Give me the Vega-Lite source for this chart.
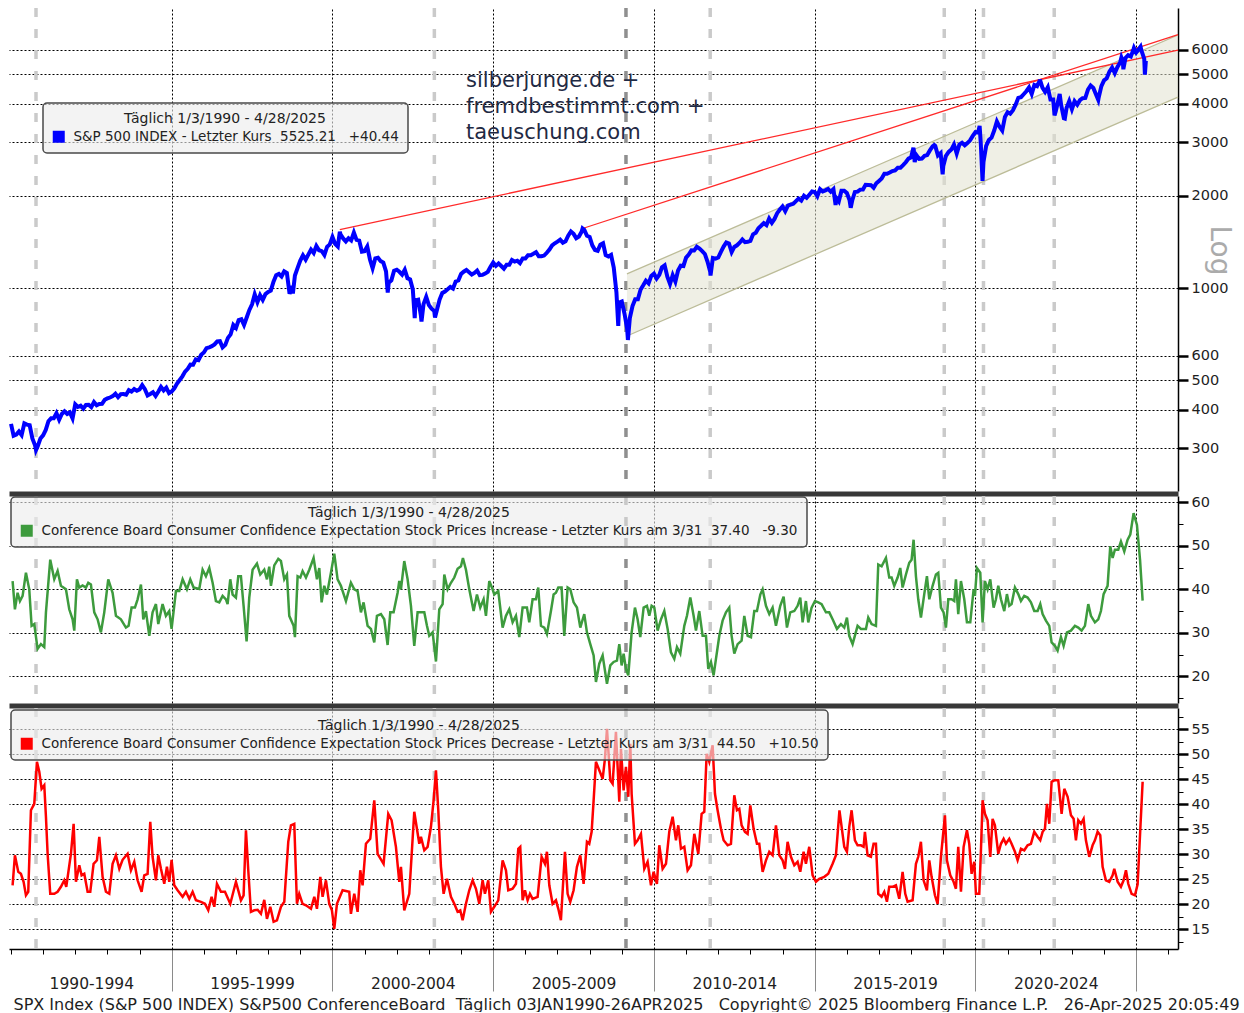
{
"$schema":"https://vega.github.io/schema/vega-lite/v6.json",
"background":"#ffffff",
"padding":{"left":3,"top":6,"right":0,"bottom":0},
"spacing":5,
"bounds":"flush",
"datasets":{
"rec":[{"t":1990.78},{"t":2003.17},{"t":2009.13},{"t":2011.75},{"t":2019.03},{"t":2020.25},{"t":2022.45}],
"band":[{"t":2009.16,"lo":697,"hi":1112},{"t":2026.3,"lo":4208,"hi":6712}],
"trend":[{"line":"a","t":2000.23,"v":1553},{"line":"a","t":2026.3,"v":5992},{"line":"b","t":2007.78,"v":1565},{"line":"b","t":2026.3,"v":6726}],
"spx":[
{"t":1990.003,"v":359.7},{"t":1990.083,"v":329.1},{"t":1990.167,"v":331.9},{"t":1990.25,"v":339.9},{"t":1990.333,"v":330.8},{"t":1990.417,"v":361.2},{"t":1990.5,"v":358.0},{"t":1990.583,"v":356.2},{"t":1990.667,"v":322.6},{"t":1990.75,"v":306.1},{"t":1990.78,"v":295.5},{"t":1990.833,"v":304.0},{"t":1990.917,"v":322.2},
{"t":1991.0,"v":330.2},{"t":1991.083,"v":343.9},{"t":1991.167,"v":367.1},{"t":1991.25,"v":375.2},{"t":1991.333,"v":375.3},{"t":1991.417,"v":389.8},{"t":1991.5,"v":371.2},{"t":1991.583,"v":387.8},{"t":1991.667,"v":395.4},{"t":1991.75,"v":387.9},{"t":1991.833,"v":392.5},{"t":1991.917,"v":375.2},
{"t":1992.0,"v":417.1},{"t":1992.083,"v":408.8},{"t":1992.167,"v":412.7},{"t":1992.25,"v":403.7},{"t":1992.333,"v":414.9},{"t":1992.417,"v":415.4},{"t":1992.5,"v":408.1},{"t":1992.583,"v":424.2},{"t":1992.667,"v":414.0},{"t":1992.75,"v":417.8},{"t":1992.833,"v":418.7},{"t":1992.917,"v":431.4},
{"t":1993.0,"v":435.7},{"t":1993.083,"v":438.8},{"t":1993.167,"v":443.4},{"t":1993.25,"v":451.7},{"t":1993.333,"v":440.2},{"t":1993.417,"v":450.2},{"t":1993.5,"v":450.5},{"t":1993.583,"v":448.1},{"t":1993.667,"v":463.6},{"t":1993.75,"v":458.9},{"t":1993.833,"v":467.8},{"t":1993.917,"v":461.8},
{"t":1994.0,"v":466.5},{"t":1994.083,"v":481.6},{"t":1994.167,"v":467.1},{"t":1994.25,"v":445.8},{"t":1994.333,"v":450.9},{"t":1994.417,"v":456.5},{"t":1994.5,"v":444.3},{"t":1994.583,"v":458.3},{"t":1994.667,"v":475.5},{"t":1994.75,"v":462.7},{"t":1994.833,"v":472.4},{"t":1994.917,"v":453.7},
{"t":1995.0,"v":459.3},{"t":1995.083,"v":470.4},{"t":1995.167,"v":487.4},{"t":1995.25,"v":500.7},{"t":1995.333,"v":514.7},{"t":1995.417,"v":533.4},{"t":1995.5,"v":544.8},{"t":1995.583,"v":562.1},{"t":1995.667,"v":561.9},{"t":1995.75,"v":584.4},{"t":1995.833,"v":581.5},{"t":1995.917,"v":605.4},
{"t":1996.0,"v":615.9},{"t":1996.083,"v":636.0},{"t":1996.167,"v":640.4},{"t":1996.25,"v":645.5},{"t":1996.333,"v":654.2},{"t":1996.417,"v":669.1},{"t":1996.5,"v":670.6},{"t":1996.583,"v":639.9},{"t":1996.667,"v":652.0},{"t":1996.75,"v":687.3},{"t":1996.833,"v":705.3},{"t":1996.917,"v":757.0},
{"t":1997.0,"v":740.7},{"t":1997.083,"v":786.2},{"t":1997.167,"v":790.8},{"t":1997.25,"v":757.1},{"t":1997.333,"v":801.3},{"t":1997.417,"v":848.3},{"t":1997.5,"v":885.1},{"t":1997.583,"v":954.3},{"t":1997.667,"v":899.5},{"t":1997.75,"v":947.3},{"t":1997.833,"v":914.6},{"t":1997.917,"v":955.4},
{"t":1998.0,"v":970.4},{"t":1998.083,"v":980.3},{"t":1998.167,"v":1049.3},{"t":1998.25,"v":1101.8},{"t":1998.333,"v":1111.8},{"t":1998.417,"v":1090.8},{"t":1998.5,"v":1133.8},{"t":1998.583,"v":1120.7},{"t":1998.667,"v":957.3},{"t":1998.75,"v":1017.0},{"t":1998.77,"v":959.4},{"t":1998.833,"v":1098.7},{"t":1998.917,"v":1163.6},
{"t":1999.0,"v":1229.2},{"t":1999.083,"v":1279.6},{"t":1999.167,"v":1238.3},{"t":1999.25,"v":1286.4},{"t":1999.333,"v":1335.2},{"t":1999.417,"v":1301.8},{"t":1999.5,"v":1372.7},{"t":1999.583,"v":1328.7},{"t":1999.667,"v":1320.4},{"t":1999.75,"v":1282.7},{"t":1999.833,"v":1362.9},{"t":1999.917,"v":1389.0},
{"t":2000.0,"v":1469.3},{"t":2000.083,"v":1394.5},{"t":2000.167,"v":1366.4},{"t":2000.23,"v":1527.5},{"t":2000.25,"v":1498.6},{"t":2000.333,"v":1452.4},{"t":2000.417,"v":1420.6},{"t":2000.5,"v":1454.6},{"t":2000.583,"v":1430.8},{"t":2000.667,"v":1517.7},{"t":2000.75,"v":1436.5},{"t":2000.833,"v":1429.4},{"t":2000.917,"v":1315.2},
{"t":2001.0,"v":1320.3},{"t":2001.083,"v":1366.0},{"t":2001.167,"v":1239.9},{"t":2001.25,"v":1160.3},{"t":2001.333,"v":1249.5},{"t":2001.417,"v":1255.8},{"t":2001.5,"v":1224.4},{"t":2001.583,"v":1211.2},{"t":2001.667,"v":1133.6},{"t":2001.72,"v":965.8},{"t":2001.75,"v":1040.9},{"t":2001.833,"v":1059.8},{"t":2001.917,"v":1139.5},
{"t":2002.0,"v":1148.1},{"t":2002.083,"v":1130.2},{"t":2002.167,"v":1106.7},{"t":2002.25,"v":1147.4},{"t":2002.333,"v":1076.9},{"t":2002.417,"v":1067.1},{"t":2002.5,"v":989.8},{"t":2002.56,"v":797.7},{"t":2002.583,"v":911.6},{"t":2002.667,"v":916.1},{"t":2002.75,"v":815.3},{"t":2002.77,"v":776.8},{"t":2002.833,"v":885.8},{"t":2002.917,"v":936.3},
{"t":2003.0,"v":879.8},{"t":2003.083,"v":855.7},{"t":2003.167,"v":841.2},{"t":2003.19,"v":800.7},{"t":2003.25,"v":848.2},{"t":2003.333,"v":916.9},{"t":2003.417,"v":963.6},{"t":2003.5,"v":974.5},{"t":2003.583,"v":990.3},{"t":2003.667,"v":1008.0},{"t":2003.75,"v":996.0},{"t":2003.833,"v":1050.7},{"t":2003.917,"v":1058.2},
{"t":2004.0,"v":1111.9},{"t":2004.083,"v":1131.1},{"t":2004.167,"v":1144.9},{"t":2004.25,"v":1126.2},{"t":2004.333,"v":1107.3},{"t":2004.417,"v":1120.7},{"t":2004.5,"v":1140.8},{"t":2004.583,"v":1101.7},{"t":2004.667,"v":1104.2},{"t":2004.75,"v":1114.6},{"t":2004.833,"v":1130.2},{"t":2004.917,"v":1173.8},
{"t":2005.0,"v":1211.9},{"t":2005.083,"v":1181.3},{"t":2005.167,"v":1203.6},{"t":2005.25,"v":1180.6},{"t":2005.333,"v":1156.9},{"t":2005.417,"v":1191.5},{"t":2005.5,"v":1191.3},{"t":2005.583,"v":1234.2},{"t":2005.667,"v":1220.3},{"t":2005.75,"v":1228.8},{"t":2005.833,"v":1207.0},{"t":2005.917,"v":1249.5},
{"t":2006.0,"v":1248.3},{"t":2006.083,"v":1280.1},{"t":2006.167,"v":1280.7},{"t":2006.25,"v":1294.9},{"t":2006.333,"v":1310.6},{"t":2006.417,"v":1270.1},{"t":2006.5,"v":1270.2},{"t":2006.583,"v":1276.7},{"t":2006.667,"v":1303.8},{"t":2006.75,"v":1335.9},{"t":2006.833,"v":1377.9},{"t":2006.917,"v":1400.6},
{"t":2007.0,"v":1418.3},{"t":2007.083,"v":1438.2},{"t":2007.167,"v":1406.8},{"t":2007.25,"v":1420.9},{"t":2007.333,"v":1482.4},{"t":2007.417,"v":1530.6},{"t":2007.5,"v":1503.4},{"t":2007.583,"v":1455.3},{"t":2007.667,"v":1474.0},{"t":2007.75,"v":1526.8},{"t":2007.78,"v":1565.2},{"t":2007.833,"v":1549.4},{"t":2007.917,"v":1481.1},
{"t":2008.0,"v":1468.4},{"t":2008.083,"v":1378.6},{"t":2008.167,"v":1330.6},{"t":2008.25,"v":1322.7},{"t":2008.333,"v":1385.6},{"t":2008.417,"v":1400.4},{"t":2008.5,"v":1280.0},{"t":2008.583,"v":1267.4},{"t":2008.667,"v":1282.8},{"t":2008.75,"v":1166.4},{"t":2008.833,"v":968.8},{"t":2008.89,"v":752.4},{"t":2008.917,"v":896.2},
{"t":2009.0,"v":903.3},{"t":2009.083,"v":825.9},{"t":2009.167,"v":735.1},{"t":2009.19,"v":676.5},{"t":2009.25,"v":797.9},{"t":2009.333,"v":872.8},{"t":2009.417,"v":919.1},{"t":2009.5,"v":919.3},{"t":2009.583,"v":987.5},{"t":2009.667,"v":1020.6},{"t":2009.75,"v":1057.1},{"t":2009.833,"v":1036.2},{"t":2009.917,"v":1095.6},
{"t":2010.0,"v":1115.1},{"t":2010.083,"v":1073.9},{"t":2010.167,"v":1104.5},{"t":2010.25,"v":1169.4},{"t":2010.333,"v":1186.7},{"t":2010.417,"v":1089.4},{"t":2010.5,"v":1030.7},{"t":2010.583,"v":1101.6},{"t":2010.667,"v":1049.3},{"t":2010.75,"v":1141.2},{"t":2010.833,"v":1183.3},{"t":2010.917,"v":1180.6},
{"t":2011.0,"v":1257.6},{"t":2011.083,"v":1286.1},{"t":2011.167,"v":1327.2},{"t":2011.25,"v":1325.8},{"t":2011.333,"v":1363.6},{"t":2011.417,"v":1345.2},{"t":2011.5,"v":1320.6},{"t":2011.583,"v":1292.3},{"t":2011.667,"v":1218.9},{"t":2011.75,"v":1131.4},{"t":2011.76,"v":1099.2},{"t":2011.833,"v":1253.3},{"t":2011.917,"v":1247.0},
{"t":2012.0,"v":1257.6},{"t":2012.083,"v":1312.4},{"t":2012.167,"v":1365.7},{"t":2012.25,"v":1408.5},{"t":2012.333,"v":1397.9},{"t":2012.417,"v":1310.3},{"t":2012.5,"v":1362.2},{"t":2012.583,"v":1379.3},{"t":2012.667,"v":1406.6},{"t":2012.75,"v":1440.7},{"t":2012.833,"v":1412.2},{"t":2012.917,"v":1416.2},
{"t":2013.0,"v":1426.2},{"t":2013.083,"v":1498.1},{"t":2013.167,"v":1514.7},{"t":2013.25,"v":1569.2},{"t":2013.333,"v":1597.6},{"t":2013.417,"v":1630.7},{"t":2013.5,"v":1606.3},{"t":2013.583,"v":1685.7},{"t":2013.667,"v":1633.0},{"t":2013.75,"v":1681.6},{"t":2013.833,"v":1756.5},{"t":2013.917,"v":1805.8},
{"t":2014.0,"v":1848.4},{"t":2014.083,"v":1782.6},{"t":2014.167,"v":1859.5},{"t":2014.25,"v":1872.3},{"t":2014.333,"v":1883.9},{"t":2014.417,"v":1923.6},{"t":2014.5,"v":1960.2},{"t":2014.583,"v":1930.7},{"t":2014.667,"v":2003.4},{"t":2014.75,"v":1972.3},{"t":2014.833,"v":2018.1},{"t":2014.917,"v":2067.6},
{"t":2015.0,"v":2058.9},{"t":2015.083,"v":1995.0},{"t":2015.167,"v":2104.5},{"t":2015.25,"v":2067.9},{"t":2015.333,"v":2085.5},{"t":2015.417,"v":2107.4},{"t":2015.5,"v":2063.1},{"t":2015.583,"v":2103.8},{"t":2015.65,"v":1867.6},{"t":2015.667,"v":1972.2},{"t":2015.75,"v":1920.0},{"t":2015.833,"v":2079.4},{"t":2015.917,"v":2080.4},
{"t":2016.0,"v":2043.9},{"t":2016.083,"v":1940.2},{"t":2016.12,"v":1829.1},{"t":2016.167,"v":1932.2},{"t":2016.25,"v":2059.7},{"t":2016.333,"v":2065.3},{"t":2016.417,"v":2097.0},{"t":2016.5,"v":2098.9},{"t":2016.583,"v":2173.6},{"t":2016.667,"v":2171.0},{"t":2016.75,"v":2168.3},{"t":2016.833,"v":2126.2},{"t":2016.917,"v":2198.8},
{"t":2017.0,"v":2238.8},{"t":2017.083,"v":2278.9},{"t":2017.167,"v":2363.6},{"t":2017.25,"v":2362.7},{"t":2017.333,"v":2384.2},{"t":2017.417,"v":2411.8},{"t":2017.5,"v":2423.4},{"t":2017.583,"v":2470.3},{"t":2017.667,"v":2471.7},{"t":2017.75,"v":2519.4},{"t":2017.833,"v":2575.3},{"t":2017.917,"v":2647.6},
{"t":2018.0,"v":2673.6},{"t":2018.07,"v":2872.9},{"t":2018.083,"v":2823.8},{"t":2018.11,"v":2581.0},{"t":2018.167,"v":2713.8},{"t":2018.25,"v":2640.9},{"t":2018.333,"v":2648.1},{"t":2018.417,"v":2705.3},{"t":2018.5,"v":2718.4},{"t":2018.583,"v":2816.3},{"t":2018.667,"v":2901.5},{"t":2018.72,"v":2930.8},{"t":2018.75,"v":2914.0},{"t":2018.833,"v":2711.7},{"t":2018.917,"v":2760.2},{"t":2018.98,"v":2351.1},
{"t":2019.0,"v":2506.9},{"t":2019.083,"v":2704.1},{"t":2019.167,"v":2784.5},{"t":2019.25,"v":2834.4},{"t":2019.333,"v":2945.8},{"t":2019.417,"v":2752.1},{"t":2019.5,"v":2941.8},{"t":2019.583,"v":2980.4},{"t":2019.667,"v":2926.5},{"t":2019.75,"v":2976.7},{"t":2019.833,"v":3037.6},{"t":2019.917,"v":3141.0},
{"t":2020.0,"v":3230.8},{"t":2020.083,"v":3225.5},{"t":2020.13,"v":3386.2},{"t":2020.167,"v":2954.2},{"t":2020.22,"v":2237.4},{"t":2020.25,"v":2584.6},{"t":2020.333,"v":2912.4},{"t":2020.417,"v":3044.3},{"t":2020.5,"v":3100.3},{"t":2020.583,"v":3271.1},{"t":2020.667,"v":3500.3},{"t":2020.75,"v":3363.0},{"t":2020.833,"v":3270.0},{"t":2020.917,"v":3621.6},
{"t":2021.0,"v":3756.1},{"t":2021.083,"v":3714.2},{"t":2021.167,"v":3811.2},{"t":2021.25,"v":3972.9},{"t":2021.333,"v":4181.2},{"t":2021.417,"v":4204.1},{"t":2021.5,"v":4297.5},{"t":2021.583,"v":4395.3},{"t":2021.667,"v":4522.7},{"t":2021.75,"v":4307.5},{"t":2021.833,"v":4605.4},{"t":2021.917,"v":4567.0},
{"t":2022.0,"v":4766.2},{"t":2022.005,"v":4796.6},{"t":2022.083,"v":4515.6},{"t":2022.167,"v":4373.9},{"t":2022.25,"v":4530.4},{"t":2022.333,"v":4131.9},{"t":2022.417,"v":4132.2},{"t":2022.46,"v":3666.8},{"t":2022.5,"v":3785.4},{"t":2022.583,"v":4130.3},{"t":2022.62,"v":4305.2},{"t":2022.667,"v":3955.0},{"t":2022.75,"v":3585.6},{"t":2022.78,"v":3577.0},{"t":2022.833,"v":3872.0},{"t":2022.917,"v":4080.1},
{"t":2023.0,"v":3839.5},{"t":2023.083,"v":4076.6},{"t":2023.167,"v":3970.2},{"t":2023.25,"v":4109.3},{"t":2023.333,"v":4169.5},{"t":2023.417,"v":4179.8},{"t":2023.5,"v":4450.4},{"t":2023.583,"v":4589.0},{"t":2023.667,"v":4507.7},{"t":2023.75,"v":4288.1},{"t":2023.82,"v":4117.4},{"t":2023.833,"v":4193.8},{"t":2023.917,"v":4567.8},
{"t":2024.0,"v":4769.8},{"t":2024.083,"v":4845.7},{"t":2024.167,"v":5096.3},{"t":2024.25,"v":5254.4},{"t":2024.333,"v":5035.7},{"t":2024.417,"v":5277.5},{"t":2024.5,"v":5460.5},{"t":2024.54,"v":5667.2},{"t":2024.583,"v":5522.3},{"t":2024.6,"v":5186.3},{"t":2024.667,"v":5648.4},{"t":2024.75,"v":5762.5},{"t":2024.833,"v":5705.5},{"t":2024.917,"v":6032.4},{"t":2024.93,"v":6090.3},
{"t":2025.0,"v":5881.6},{"t":2025.083,"v":6040.5},{"t":2025.135,"v":6144.2},{"t":2025.167,"v":5954.5},{"t":2025.25,"v":5611.9},{"t":2025.27,"v":4982.8},{"t":2025.3,"v":5525.2}
],
"inc":[
{"t":1990.052,"v":41.9},{"t":1990.124,"v":35.4},{"t":1990.207,"v":39.2},{"t":1990.28,"v":37.3},{"t":1990.363,"v":38.5},{"t":1990.467,"v":43.8},{"t":1990.57,"v":40.0},{"t":1990.643,"v":31.6},{"t":1990.726,"v":32.0},{"t":1990.829,"v":26.3},{"t":1990.933,"v":27.4},{"t":1991.037,"v":26.7},{"t":1991.089,"v":34.7},{"t":1991.223,"v":46.8},{"t":1991.348,"v":42.3},{"t":1991.452,"v":44.2},{"t":1991.555,"v":40.8},{"t":1991.711,"v":40.0},{"t":1991.814,"v":35.4},{"t":1991.918,"v":33.1},{"t":1991.97,"v":30.5},
{"t":1992.053,"v":42.3},{"t":1992.125,"v":40.4},{"t":1992.229,"v":40.9},{"t":1992.333,"v":40.4},{"t":1992.405,"v":41.5},{"t":1992.488,"v":41.1},{"t":1992.592,"v":34.7},{"t":1992.696,"v":33.1},{"t":1992.799,"v":30.1},{"t":1992.903,"v":34.7},{"t":1993.027,"v":42.3},{"t":1993.162,"v":39.2},{"t":1993.266,"v":33.9},{"t":1993.421,"v":33.1},{"t":1993.577,"v":31.2},{"t":1993.66,"v":31.6},{"t":1993.753,"v":35.8},{"t":1993.857,"v":35.8},{"t":1993.94,"v":37.7},
{"t":1994.044,"v":41.1},{"t":1994.116,"v":33.1},{"t":1994.199,"v":35.0},{"t":1994.303,"v":29.3},{"t":1994.406,"v":34.7},{"t":1994.51,"v":36.6},{"t":1994.583,"v":32.0},{"t":1994.717,"v":36.6},{"t":1994.821,"v":33.9},{"t":1994.925,"v":35.0},{"t":1994.997,"v":30.9},{"t":1995.132,"v":39.6},{"t":1995.236,"v":39.6},{"t":1995.34,"v":42.3},{"t":1995.474,"v":40.0},{"t":1995.578,"v":42.3},{"t":1995.682,"v":40.4},{"t":1995.858,"v":40.1},{"t":1995.962,"v":44.5},
{"t":1996.065,"v":43.0},{"t":1996.169,"v":44.9},{"t":1996.273,"v":41.5},{"t":1996.376,"v":37.3},{"t":1996.48,"v":37.0},{"t":1996.584,"v":38.5},{"t":1996.687,"v":37.7},{"t":1996.739,"v":36.6},{"t":1996.822,"v":42.3},{"t":1996.895,"v":38.8},{"t":1996.998,"v":38.1},{"t":1997.071,"v":43.0},{"t":1997.154,"v":43.0},{"t":1997.237,"v":36.2},{"t":1997.33,"v":28.0},{"t":1997.413,"v":38.1},{"t":1997.517,"v":44.5},{"t":1997.652,"v":45.9},{"t":1997.755,"v":43.4},{"t":1997.88,"v":44.5},{"t":1997.963,"v":42.3},
{"t":1998.035,"v":45.2},{"t":1998.087,"v":40.8},{"t":1998.191,"v":45.5},{"t":1998.315,"v":47.0},{"t":1998.398,"v":46.5},{"t":1998.502,"v":42.3},{"t":1998.585,"v":43.4},{"t":1998.657,"v":33.9},{"t":1998.792,"v":31.6},{"t":1998.834,"v":29.0},{"t":1998.917,"v":43.0},{"t":1999.0,"v":42.7},{"t":1999.072,"v":44.2},{"t":1999.176,"v":42.7},{"t":1999.28,"v":44.5},{"t":1999.414,"v":47.2},{"t":1999.518,"v":42.3},{"t":1999.591,"v":44.9},{"t":1999.663,"v":37.0},{"t":1999.746,"v":40.8},{"t":1999.829,"v":38.8},{"t":1999.953,"v":43.8},
{"t":2000.057,"v":48.2},{"t":2000.161,"v":42.3},{"t":2000.264,"v":40.8},{"t":2000.42,"v":37.3},{"t":2000.575,"v":41.5},{"t":2000.679,"v":40.0},{"t":2000.783,"v":39.6},{"t":2000.886,"v":34.7},{"t":2000.969,"v":37.0},{"t":2001.094,"v":31.6},{"t":2001.197,"v":30.9},{"t":2001.301,"v":27.8},{"t":2001.384,"v":33.9},{"t":2001.508,"v":34.3},{"t":2001.612,"v":33.1},{"t":2001.716,"v":27.2},{"t":2001.799,"v":34.7},{"t":2001.902,"v":34.7},
{"t":2002.027,"v":39.2},{"t":2002.079,"v":41.9},{"t":2002.131,"v":40.0},{"t":2002.234,"v":46.5},{"t":2002.338,"v":42.3},{"t":2002.442,"v":36.2},{"t":2002.545,"v":27.0},{"t":2002.649,"v":34.7},{"t":2002.857,"v":34.7},{"t":2002.94,"v":31.6},{"t":2003.012,"v":29.3},{"t":2003.116,"v":30.1},{"t":2003.22,"v":23.4},{"t":2003.323,"v":35.4},{"t":2003.427,"v":36.6},{"t":2003.479,"v":43.4},{"t":2003.582,"v":40.0},{"t":2003.686,"v":41.5},{"t":2003.79,"v":42.7},{"t":2003.893,"v":44.7},{"t":2003.997,"v":45.3},
{"t":2004.059,"v":47.2},{"t":2004.153,"v":44.5},{"t":2004.256,"v":40.0},{"t":2004.391,"v":35.0},{"t":2004.495,"v":38.8},{"t":2004.598,"v":35.8},{"t":2004.702,"v":37.7},{"t":2004.775,"v":33.9},{"t":2004.878,"v":41.9},{"t":2004.982,"v":40.0},{"t":2005.034,"v":38.8},{"t":2005.158,"v":39.6},{"t":2005.293,"v":31.2},{"t":2005.397,"v":33.9},{"t":2005.5,"v":35.4},{"t":2005.604,"v":32.4},{"t":2005.708,"v":33.9},{"t":2005.811,"v":29.0},{"t":2005.915,"v":35.8},
{"t":2006.05,"v":35.8},{"t":2006.122,"v":32.4},{"t":2006.226,"v":37.7},{"t":2006.33,"v":37.7},{"t":2006.402,"v":40.4},{"t":2006.486,"v":31.6},{"t":2006.589,"v":31.2},{"t":2006.672,"v":29.7},{"t":2006.796,"v":35.0},{"t":2006.879,"v":38.8},{"t":2006.952,"v":39.2},{"t":2007.025,"v":40.4},{"t":2007.128,"v":40.4},{"t":2007.211,"v":29.3},{"t":2007.315,"v":40.4},{"t":2007.398,"v":40.0},{"t":2007.501,"v":37.0},{"t":2007.605,"v":35.8},{"t":2007.709,"v":31.2},{"t":2007.833,"v":34.3},{"t":2007.916,"v":30.1},
{"t":2008.02,"v":27.4},{"t":2008.124,"v":24.8},{"t":2008.196,"v":18.7},{"t":2008.3,"v":22.9},{"t":2008.404,"v":24.8},{"t":2008.539,"v":18.3},{"t":2008.642,"v":22.5},{"t":2008.746,"v":23.3},{"t":2008.849,"v":23.6},{"t":2008.922,"v":27.4},{"t":2008.995,"v":22.5},{"t":2009.057,"v":25.2},{"t":2009.129,"v":21.7},{"t":2009.202,"v":20.2},{"t":2009.306,"v":30.1},{"t":2009.409,"v":35.8},{"t":2009.492,"v":33.1},{"t":2009.575,"v":29.0},{"t":2009.679,"v":35.8},{"t":2009.782,"v":36.2},{"t":2009.855,"v":33.9},{"t":2009.928,"v":36.2},
{"t":2010.011,"v":35.8},{"t":2010.114,"v":30.5},{"t":2010.218,"v":33.1},{"t":2010.322,"v":35.0},{"t":2010.425,"v":30.9},{"t":2010.529,"v":25.5},{"t":2010.633,"v":24.0},{"t":2010.716,"v":26.7},{"t":2010.819,"v":25.2},{"t":2010.944,"v":31.6},{"t":2011.027,"v":33.9},{"t":2011.131,"v":38.1},{"t":2011.234,"v":33.9},{"t":2011.307,"v":30.5},{"t":2011.41,"v":35.0},{"t":2011.514,"v":29.3},{"t":2011.618,"v":29.3},{"t":2011.69,"v":21.7},{"t":2011.773,"v":23.3},{"t":2011.856,"v":20.2},{"t":2011.929,"v":24.0},
{"t":2012.033,"v":29.3},{"t":2012.136,"v":32.8},{"t":2012.24,"v":34.7},{"t":2012.343,"v":35.8},{"t":2012.416,"v":29.3},{"t":2012.499,"v":25.2},{"t":2012.603,"v":27.4},{"t":2012.727,"v":28.2},{"t":2012.81,"v":33.9},{"t":2012.914,"v":29.3},{"t":2013.018,"v":29.0},{"t":2013.121,"v":35.0},{"t":2013.204,"v":35.0},{"t":2013.308,"v":38.8},{"t":2013.38,"v":40.0},{"t":2013.484,"v":36.2},{"t":2013.587,"v":34.3},{"t":2013.691,"v":35.8},{"t":2013.795,"v":31.6},{"t":2013.929,"v":36.2},
{"t":2014.033,"v":38.3},{"t":2014.137,"v":31.2},{"t":2014.24,"v":34.7},{"t":2014.365,"v":35.0},{"t":2014.468,"v":36.2},{"t":2014.551,"v":38.1},{"t":2014.624,"v":32.4},{"t":2014.727,"v":37.3},{"t":2014.8,"v":32.4},{"t":2014.904,"v":35.8},{"t":2015.008,"v":37.3},{"t":2015.111,"v":37.0},{"t":2015.215,"v":36.6},{"t":2015.35,"v":34.7},{"t":2015.453,"v":34.7},{"t":2015.557,"v":33.1},{"t":2015.692,"v":30.9},{"t":2015.816,"v":32.0},{"t":2015.92,"v":31.2},
{"t":2016.003,"v":33.5},{"t":2016.075,"v":29.3},{"t":2016.179,"v":27.4},{"t":2016.334,"v":31.6},{"t":2016.438,"v":30.9},{"t":2016.594,"v":30.9},{"t":2016.666,"v":33.5},{"t":2016.77,"v":32.0},{"t":2016.905,"v":31.6},{"t":2016.977,"v":45.7},{"t":2017.081,"v":45.3},{"t":2017.216,"v":47.2},{"t":2017.319,"v":42.7},{"t":2017.392,"v":42.7},{"t":2017.475,"v":40.8},{"t":2017.579,"v":42.7},{"t":2017.661,"v":44.9},{"t":2017.734,"v":40.4},{"t":2017.838,"v":43.4},{"t":2017.941,"v":46.1},
{"t":2018.014,"v":46.8},{"t":2018.076,"v":51.4},{"t":2018.149,"v":43.0},{"t":2018.221,"v":37.7},{"t":2018.304,"v":33.5},{"t":2018.408,"v":38.9},{"t":2018.491,"v":43.0},{"t":2018.564,"v":37.7},{"t":2018.667,"v":40.8},{"t":2018.771,"v":43.4},{"t":2018.844,"v":43.8},{"t":2018.926,"v":35.8},{"t":2019.009,"v":34.7},{"t":2019.082,"v":31.2},{"t":2019.155,"v":37.7},{"t":2019.258,"v":37.7},{"t":2019.341,"v":37.3},{"t":2019.393,"v":42.3},{"t":2019.465,"v":34.3},{"t":2019.549,"v":41.9},{"t":2019.652,"v":37.7},{"t":2019.735,"v":32.4},{"t":2019.839,"v":32.4},{"t":2019.943,"v":40.0},{"t":2019.984,"v":38.5},
{"t":2020.046,"v":44.9},{"t":2020.15,"v":43.8},{"t":2020.222,"v":32.4},{"t":2020.295,"v":41.9},{"t":2020.378,"v":40.0},{"t":2020.461,"v":42.3},{"t":2020.565,"v":35.8},{"t":2020.637,"v":37.7},{"t":2020.71,"v":40.8},{"t":2020.793,"v":37.7},{"t":2020.896,"v":35.0},{"t":2020.979,"v":38.9},{"t":2021.052,"v":36.2},{"t":2021.124,"v":36.6},{"t":2021.228,"v":40.4},{"t":2021.332,"v":38.9},{"t":2021.415,"v":37.3},{"t":2021.518,"v":38.5},{"t":2021.622,"v":38.1},{"t":2021.726,"v":37.0},{"t":2021.829,"v":35.0},{"t":2021.933,"v":35.0},
{"t":2022.016,"v":36.6},{"t":2022.089,"v":34.3},{"t":2022.192,"v":32.8},{"t":2022.296,"v":31.6},{"t":2022.369,"v":27.8},{"t":2022.472,"v":27.0},{"t":2022.555,"v":25.9},{"t":2022.659,"v":29.0},{"t":2022.742,"v":27.0},{"t":2022.846,"v":30.1},{"t":2022.97,"v":30.5},{"t":2023.094,"v":31.6},{"t":2023.198,"v":31.2},{"t":2023.302,"v":30.5},{"t":2023.405,"v":31.6},{"t":2023.509,"v":36.6},{"t":2023.592,"v":33.9},{"t":2023.716,"v":32.4},{"t":2023.82,"v":33.1},{"t":2023.903,"v":35.0},{"t":2023.986,"v":38.9},
{"t":2024.11,"v":40.8},{"t":2024.193,"v":49.9},{"t":2024.266,"v":47.2},{"t":2024.338,"v":49.1},{"t":2024.442,"v":49.1},{"t":2024.525,"v":51.0},{"t":2024.629,"v":48.7},{"t":2024.733,"v":51.4},{"t":2024.816,"v":52.6},{"t":2024.919,"v":57.5},{"t":2025.023,"v":54.8},{"t":2025.12,"v":46.7},{"t":2025.2,"v":37.4}
],
"dec":[
{"t":1990.052,"v":23.8},{"t":1990.124,"v":29.8},{"t":1990.228,"v":26.5},{"t":1990.311,"v":26.1},{"t":1990.394,"v":24.5},{"t":1990.467,"v":21.8},{"t":1990.539,"v":22.5},{"t":1990.622,"v":38.8},{"t":1990.726,"v":40.1},{"t":1990.809,"v":48.5},{"t":1990.882,"v":46.5},{"t":1990.954,"v":43.1},{"t":1991.037,"v":43.8},{"t":1991.089,"v":37.5},{"t":1991.141,"v":30.1},{"t":1991.223,"v":22.1},{"t":1991.348,"v":22.1},{"t":1991.452,"v":22.5},{"t":1991.555,"v":23.5},{"t":1991.659,"v":24.8},{"t":1991.721,"v":23.5},{"t":1991.866,"v":30.1},{"t":1991.95,"v":36.1},
{"t":1992.022,"v":24.5},{"t":1992.126,"v":27.8},{"t":1992.198,"v":25.8},{"t":1992.281,"v":26.1},{"t":1992.385,"v":22.5},{"t":1992.468,"v":22.5},{"t":1992.571,"v":28.1},{"t":1992.675,"v":28.8},{"t":1992.748,"v":33.5},{"t":1992.851,"v":25.5},{"t":1992.955,"v":22.5},{"t":1993.059,"v":22.1},{"t":1993.162,"v":28.1},{"t":1993.266,"v":29.8},{"t":1993.37,"v":27.1},{"t":1993.473,"v":28.9},{"t":1993.629,"v":30.1},{"t":1993.733,"v":26.8},{"t":1993.836,"v":28.5},{"t":1993.94,"v":24.8},
{"t":1994.064,"v":22.5},{"t":1994.147,"v":25.8},{"t":1994.251,"v":26.1},{"t":1994.334,"v":36.5},{"t":1994.406,"v":29.5},{"t":1994.51,"v":24.8},{"t":1994.583,"v":29.8},{"t":1994.666,"v":27.1},{"t":1994.769,"v":24.1},{"t":1994.852,"v":27.5},{"t":1994.925,"v":24.5},{"t":1994.997,"v":28.9},{"t":1995.08,"v":23.8},{"t":1995.184,"v":22.8},{"t":1995.34,"v":21.5},{"t":1995.443,"v":22.5},{"t":1995.547,"v":21.1},{"t":1995.651,"v":22.5},{"t":1995.754,"v":20.8},{"t":1995.91,"v":20.5},
{"t":1996.034,"v":20.1},{"t":1996.138,"v":18.8},{"t":1996.242,"v":21.5},{"t":1996.325,"v":19.5},{"t":1996.408,"v":24.1},{"t":1996.532,"v":22.5},{"t":1996.657,"v":22.5},{"t":1996.823,"v":20.1},{"t":1996.999,"v":24.5},{"t":1997.071,"v":22.8},{"t":1997.154,"v":20.8},{"t":1997.237,"v":21.8},{"t":1997.31,"v":34.8},{"t":1997.382,"v":26.8},{"t":1997.465,"v":18.5},{"t":1997.569,"v":18.8},{"t":1997.673,"v":18.9},{"t":1997.776,"v":18.1},{"t":1997.88,"v":20.9},{"t":1997.963,"v":17.1},
{"t":1998.067,"v":19.5},{"t":1998.17,"v":16.5},{"t":1998.274,"v":16.8},{"t":1998.398,"v":19.5},{"t":1998.502,"v":20.5},{"t":1998.626,"v":32.5},{"t":1998.709,"v":35.8},{"t":1998.813,"v":36.1},{"t":1998.896,"v":20.1},{"t":1998.968,"v":22.1},{"t":1999.072,"v":20.1},{"t":1999.176,"v":19.8},{"t":1999.332,"v":19.1},{"t":1999.436,"v":21.5},{"t":1999.518,"v":19.1},{"t":1999.622,"v":25.5},{"t":1999.694,"v":21.5},{"t":1999.798,"v":24.8},{"t":1999.901,"v":20.1},{"t":1999.984,"v":18.8},
{"t":2000.057,"v":15.1},{"t":2000.14,"v":20.1},{"t":2000.316,"v":22.8},{"t":2000.523,"v":22.5},{"t":2000.575,"v":18.1},{"t":2000.679,"v":22.1},{"t":2000.783,"v":18.5},{"t":2000.866,"v":26.8},{"t":2000.938,"v":23.8},{"t":2001.042,"v":32.1},{"t":2001.176,"v":33.1},{"t":2001.301,"v":40.8},{"t":2001.405,"v":30.1},{"t":2001.591,"v":28.1},{"t":2001.736,"v":38.1},{"t":2001.84,"v":36.8},{"t":2001.975,"v":31.5},
{"t":2002.079,"v":24.5},{"t":2002.131,"v":27.5},{"t":2002.234,"v":18.8},{"t":2002.39,"v":22.1},{"t":2002.545,"v":38.5},{"t":2002.701,"v":32.1},{"t":2002.753,"v":33.5},{"t":2002.857,"v":30.8},{"t":2002.96,"v":31.5},{"t":2003.064,"v":35.5},{"t":2003.147,"v":40.8},{"t":2003.22,"v":46.8},{"t":2003.292,"v":38.8},{"t":2003.375,"v":27.5},{"t":2003.458,"v":22.1},{"t":2003.562,"v":25.1},{"t":2003.686,"v":21.5},{"t":2003.79,"v":20.1},{"t":2003.893,"v":18.5},{"t":2003.976,"v":18.8},
{"t":2004.049,"v":16.8},{"t":2004.153,"v":20.1},{"t":2004.256,"v":22.8},{"t":2004.36,"v":24.8},{"t":2004.464,"v":23.1},{"t":2004.567,"v":20.1},{"t":2004.671,"v":24.8},{"t":2004.743,"v":22.1},{"t":2004.847,"v":24.8},{"t":2004.93,"v":18.5},{"t":2005.034,"v":19.5},{"t":2005.158,"v":20.8},{"t":2005.293,"v":28.8},{"t":2005.397,"v":26.8},{"t":2005.469,"v":22.8},{"t":2005.604,"v":23.1},{"t":2005.708,"v":24.1},{"t":2005.78,"v":31.1},{"t":2005.842,"v":31.5},{"t":2005.915,"v":20.8},{"t":2005.988,"v":22.8},
{"t":2006.071,"v":20.8},{"t":2006.143,"v":22.1},{"t":2006.226,"v":21.1},{"t":2006.382,"v":21.5},{"t":2006.506,"v":29.5},{"t":2006.61,"v":28.1},{"t":2006.672,"v":30.5},{"t":2006.745,"v":23.8},{"t":2006.848,"v":20.1},{"t":2006.952,"v":20.8},{"t":2007.025,"v":19.1},{"t":2007.107,"v":16.8},{"t":2007.232,"v":30.5},{"t":2007.315,"v":22.1},{"t":2007.398,"v":20.5},{"t":2007.501,"v":22.8},{"t":2007.605,"v":27.5},{"t":2007.709,"v":29.8},{"t":2007.812,"v":24.1},{"t":2007.916,"v":32.5},{"t":2007.988,"v":32.1},
{"t":2008.062,"v":34.5},{"t":2008.124,"v":40.8},{"t":2008.196,"v":48.5},{"t":2008.3,"v":46.8},{"t":2008.404,"v":45.1},{"t":2008.476,"v":49.1},{"t":2008.539,"v":55.1},{"t":2008.642,"v":44.8},{"t":2008.715,"v":44.1},{"t":2008.818,"v":54.5},{"t":2008.922,"v":40.5},{"t":2008.974,"v":51.1},{"t":2009.057,"v":42.8},{"t":2009.129,"v":47.5},{"t":2009.202,"v":41.5},{"t":2009.264,"v":52.1},{"t":2009.306,"v":42.1},{"t":2009.409,"v":32.1},{"t":2009.492,"v":32.8},{"t":2009.596,"v":34.1},{"t":2009.7,"v":27.1},{"t":2009.803,"v":28.5},{"t":2009.907,"v":23.8},{"t":2009.99,"v":26.5},
{"t":2010.093,"v":24.1},{"t":2010.166,"v":31.8},{"t":2010.27,"v":27.1},{"t":2010.374,"v":28.1},{"t":2010.477,"v":34.5},{"t":2010.581,"v":37.5},{"t":2010.685,"v":32.8},{"t":2010.757,"v":35.8},{"t":2010.84,"v":31.1},{"t":2010.944,"v":31.5},{"t":2011.047,"v":26.8},{"t":2011.151,"v":27.8},{"t":2011.255,"v":34.1},{"t":2011.379,"v":30.1},{"t":2011.483,"v":38.1},{"t":2011.566,"v":38.5},{"t":2011.639,"v":50.1},{"t":2011.721,"v":48.5},{"t":2011.825,"v":51.8},{"t":2011.898,"v":42.1},{"t":2011.98,"v":38.8},
{"t":2012.084,"v":35.1},{"t":2012.167,"v":32.8},{"t":2012.291,"v":31.8},{"t":2012.395,"v":32.1},{"t":2012.499,"v":41.8},{"t":2012.582,"v":38.8},{"t":2012.655,"v":39.1},{"t":2012.727,"v":35.8},{"t":2012.831,"v":34.5},{"t":2012.914,"v":34.1},{"t":2012.997,"v":39.8},{"t":2013.1,"v":35.1},{"t":2013.204,"v":32.1},{"t":2013.276,"v":32.1},{"t":2013.38,"v":26.5},{"t":2013.484,"v":28.8},{"t":2013.587,"v":30.5},{"t":2013.691,"v":29.8},{"t":2013.795,"v":35.8},{"t":2013.898,"v":29.8},
{"t":2014.002,"v":28.8},{"t":2014.075,"v":27.1},{"t":2014.157,"v":32.5},{"t":2014.261,"v":29.5},{"t":2014.365,"v":27.8},{"t":2014.468,"v":28.5},{"t":2014.551,"v":26.5},{"t":2014.655,"v":30.5},{"t":2014.727,"v":28.1},{"t":2014.831,"v":31.5},{"t":2014.935,"v":25.8},{"t":2015.039,"v":24.5},{"t":2015.142,"v":25.1},{"t":2015.298,"v":25.5},{"t":2015.422,"v":26.1},{"t":2015.557,"v":28.1},{"t":2015.661,"v":29.8},{"t":2015.77,"v":38.8},{"t":2015.92,"v":31.5},
{"t":2016.003,"v":30.5},{"t":2016.075,"v":35.5},{"t":2016.148,"v":38.8},{"t":2016.251,"v":32.8},{"t":2016.334,"v":31.8},{"t":2016.438,"v":31.8},{"t":2016.521,"v":31.5},{"t":2016.562,"v":34.5},{"t":2016.645,"v":29.8},{"t":2016.749,"v":29.5},{"t":2016.832,"v":32.1},{"t":2016.905,"v":32.1},{"t":2016.977,"v":22.1},{"t":2017.081,"v":21.5},{"t":2017.164,"v":22.5},{"t":2017.247,"v":20.5},{"t":2017.319,"v":23.5},{"t":2017.423,"v":23.5},{"t":2017.527,"v":23.8},{"t":2017.63,"v":21.1},{"t":2017.734,"v":26.5},{"t":2017.817,"v":22.1},{"t":2017.89,"v":20.5},
{"t":2018.045,"v":20.8},{"t":2018.149,"v":28.1},{"t":2018.221,"v":29.5},{"t":2018.304,"v":32.5},{"t":2018.387,"v":24.8},{"t":2018.491,"v":22.8},{"t":2018.564,"v":28.8},{"t":2018.636,"v":25.5},{"t":2018.74,"v":21.8},{"t":2018.823,"v":20.1},{"t":2018.926,"v":29.5},{"t":2019.051,"v":37.8},{"t":2019.113,"v":28.8},{"t":2019.217,"v":25.8},{"t":2019.32,"v":24.5},{"t":2019.393,"v":23.1},{"t":2019.465,"v":31.5},{"t":2019.549,"v":22.5},{"t":2019.632,"v":31.5},{"t":2019.735,"v":34.8},{"t":2019.807,"v":32.1},{"t":2019.88,"v":26.1},{"t":2019.963,"v":28.5},
{"t":2020.015,"v":22.1},{"t":2020.119,"v":22.1},{"t":2020.171,"v":30.8},{"t":2020.222,"v":40.8},{"t":2020.295,"v":38.1},{"t":2020.378,"v":36.8},{"t":2020.461,"v":29.5},{"t":2020.533,"v":37.1},{"t":2020.606,"v":35.8},{"t":2020.71,"v":30.1},{"t":2020.793,"v":32.1},{"t":2020.876,"v":33.1},{"t":2020.948,"v":32.1},{"t":2021.052,"v":33.1},{"t":2021.124,"v":32.1},{"t":2021.228,"v":30.5},{"t":2021.311,"v":28.8},{"t":2021.415,"v":31.1},{"t":2021.518,"v":30.8},{"t":2021.622,"v":31.8},{"t":2021.726,"v":32.1},{"t":2021.829,"v":34.5},{"t":2021.933,"v":33.5},
{"t":2022.016,"v":32.8},{"t":2022.089,"v":34.5},{"t":2022.161,"v":35.1},{"t":2022.223,"v":40.1},{"t":2022.296,"v":36.1},{"t":2022.369,"v":44.5},{"t":2022.452,"v":44.8},{"t":2022.576,"v":44.8},{"t":2022.68,"v":38.1},{"t":2022.763,"v":43.1},{"t":2022.867,"v":41.5},{"t":2022.97,"v":37.8},{"t":2023.053,"v":37.1},{"t":2023.125,"v":32.8},{"t":2023.198,"v":36.8},{"t":2023.281,"v":36.1},{"t":2023.364,"v":37.1},{"t":2023.436,"v":32.8},{"t":2023.54,"v":29.5},{"t":2023.644,"v":31.8},{"t":2023.716,"v":32.8},{"t":2023.799,"v":34.5},{"t":2023.882,"v":33.8},{"t":2023.955,"v":27.5},
{"t":2024.058,"v":24.8},{"t":2024.162,"v":24.5},{"t":2024.266,"v":25.8},{"t":2024.318,"v":27.1},{"t":2024.422,"v":24.5},{"t":2024.525,"v":23.5},{"t":2024.608,"v":24.8},{"t":2024.681,"v":26.8},{"t":2024.753,"v":24.1},{"t":2024.857,"v":22.1},{"t":2024.961,"v":21.8},{"t":2025.044,"v":24.0},{"t":2025.12,"v":34.0},{"t":2025.2,"v":44.5}
]
},
"vconcat":[
{
"width":1169,"height":483,
"layer":[
{"data":{"name":"rec"},"mark":{"type":"rule","strokeDash":[9,12],"strokeWidth":3.5},
 "encoding":{"x":{"field":"t","type":"quantitative","scale":{"domain":[1989.94,2026.3],"nice":false,"zero":false},
   "axis":{"orient":"bottom","values":[1995,2000,2005,2010,2015,2020,2025],"grid":true,"labels":false,"ticks":false,"domain":false,"title":null}},
  "stroke":{"condition":{"test":"datum.t > 2009 && datum.t < 2010","value":"#8f8f8f"},"value":"#cacaca"}}},
{"data":{"name":"band"},"mark":{"type":"area","color":"#e2e2cf","opacity":0.55},
 "encoding":{"x":{"field":"t","type":"quantitative","scale":{"domain":[1989.94,2026.3],"nice":false,"zero":false},
   "axis":{"orient":"bottom","grid":false,"labels":false,"ticks":false,"domain":true,"domainWidth":5,"domainColor":"#383838","offset":2.5,"title":null}},
  "y":{"field":"lo","type":"quantitative","scale":{"type":"log","domain":[217.2,8222],"nice":false},
   "axis":{"orient":"right","values":[300,400,500,600,1000,2000,3000,4000,5000,6000],"format":"d","grid":true,"tickSize":10,"tickWidth":2.5,"domainWidth":1.5,"labelPadding":3,"title":"Log","titleAngle":90,"titleX":40,"titleY":242,"titleFontSize":28,"titleColor":"#ababab","titleAlign":"center","titleBaseline":"middle"}},
  "y2":{"field":"hi"}}},
{"data":{"name":"band"},"mark":{"type":"line","color":"#bcbc98","strokeWidth":1.3},
 "encoding":{"x":{"field":"t","type":"quantitative","scale":{"domain":[1989.94,2026.3],"nice":false,"zero":false},"axis":null},
  "y":{"field":"lo","type":"quantitative","scale":{"type":"log","domain":[217.2,8222],"nice":false},"axis":null}}},
{"data":{"name":"band"},"mark":{"type":"line","color":"#bcbc98","strokeWidth":1.3},
 "encoding":{"x":{"field":"t","type":"quantitative","scale":{"domain":[1989.94,2026.3],"nice":false,"zero":false},"axis":null},
  "y":{"field":"hi","type":"quantitative","scale":{"type":"log","domain":[217.2,8222],"nice":false},"axis":null}}},
{"data":{"name":"trend"},"mark":{"type":"line","color":"#ff2a2a","strokeWidth":1.3},
 "encoding":{"x":{"field":"t","type":"quantitative","scale":{"domain":[1989.94,2026.3],"nice":false,"zero":false},"axis":null},
  "y":{"field":"v","type":"quantitative","scale":{"type":"log","domain":[217.2,8222],"nice":false},"axis":null},
  "detail":{"field":"line"}}},
{"data":{"name":"spx"},"mark":{"type":"line","strokeWidth":4},
 "encoding":{"x":{"field":"t","type":"quantitative","scale":{"domain":[1989.94,2026.3],"nice":false,"zero":false},"axis":null},
  "y":{"field":"v","type":"quantitative","scale":{"type":"log","domain":[217.2,8222],"nice":false},"axis":null},
  "color":{"datum":"S&P 500 INDEX - Letzter Kurs\u00a0\u00a05525.21\u00a0\u00a0\u00a0+40.44","scale":{"range":["#0000ff"]},
   "legend":{"title":"Täglich 1/3/1990 - 4/28/2025","legendX":34,"legendY":95,"symbolFillColor":"#0000ff"}}}},
{"data":{"values":[{}]},"mark":{"type":"text","align":"left","baseline":"middle","fontSize":21,"font":"DejaVu Sans","color":"#1f2a44","lineHeight":26},
 "encoding":{"x":{"datum":2004.155,"type":"quantitative","scale":{"domain":[1989.94,2026.3],"nice":false,"zero":false},"axis":null},
  "y":{"datum":4750,"type":"quantitative","scale":{"type":"log","domain":[217.2,8222],"nice":false},"axis":null},
  "text":{"value":["silberjunge.de +","fremdbestimmt.com +","taeuschung.com"]}}}
],
"resolve":{"axis":{"x":"independent","y":"independent"}}
},
{
"width":1169,"height":207,
"layer":[
{"data":{"name":"rec"},"mark":{"type":"rule","strokeDash":[9,12],"strokeWidth":3.5},
 "encoding":{"x":{"field":"t","type":"quantitative","scale":{"domain":[1989.94,2026.3],"nice":false,"zero":false},
   "axis":{"orient":"bottom","values":[1995,2000,2005,2010,2015,2020,2025],"grid":true,"labels":false,"ticks":false,"domain":false,"title":null}},
  "stroke":{"condition":{"test":"datum.t > 2009 && datum.t < 2010","value":"#8f8f8f"},"value":"#cacaca"}}},
{"data":{"name":"inc"},"mark":{"type":"line","strokeWidth":2.5},
 "encoding":{"x":{"field":"t","type":"quantitative","scale":{"domain":[1989.94,2026.3],"nice":false,"zero":false},
   "axis":{"orient":"bottom","grid":false,"labels":false,"ticks":false,"domain":true,"domainWidth":5,"domainColor":"#383838","offset":2.5,"title":null}},
  "y":{"field":"v","type":"quantitative","scale":{"domain":[13.86,61.45],"nice":false,"zero":false},
   "axis":{"orient":"right","values":[15,20,25,30,35,40,45,50,55,60],"labelExpr":"datum.value % 10 === 0 ? datum.label : ''","grid":true,
    "gridOpacity":{"condition":{"test":"datum.value % 10 !== 0","value":0},"value":1},
    "tickSize":{"condition":{"test":"datum.value % 10 !== 0","value":5},"value":10},
    "tickWidth":{"condition":{"test":"datum.value % 10 !== 0","value":1},"value":2.5},
    "domainWidth":1.5,"labelPadding":3,"title":null}},
  "color":{"datum":"Conference Board Consumer Confidence Expectation Stock Prices Increase - Letzter Kurs am 3/31\u00a0\u00a037.40\u00a0\u00a0\u00a0-9.30","scale":{"range":["#3d9b3d"]},
   "legend":{"title":"Täglich 1/3/1990 - 4/28/2025","legendX":2,"legendY":1,"symbolFillColor":"#3d9b3d"}}}}
],
"resolve":{"axis":{"x":"independent","y":"independent"}}
},
{
"width":1169,"height":241,
"layer":[
{"data":{"name":"rec"},"mark":{"type":"rule","strokeDash":[9,12],"strokeWidth":3.5},
 "encoding":{"x":{"field":"t","type":"quantitative","scale":{"domain":[1989.94,2026.3],"nice":false,"zero":false},
   "axis":{"orient":"bottom","values":[1990,1991,1992,1993,1994,1995,1996,1997,1998,1999,2000,2001,2002,2003,2004,2005,2006,2007,2008,2009,2010,2011,2012,2013,2014,2015,2016,2017,2018,2019,2020,2021,2022,2023,2024,2025,2026],
    "grid":true,"gridOpacity":{"condition":{"test":"datum.value % 5 === 0 && datum.value > 1990","value":1},"value":0},
    "ticks":true,"tickSize":{"condition":{"test":"datum.value % 5 === 0 && datum.value > 1990","value":42},"value":5},
    "tickColor":{"condition":{"test":"datum.value % 5 === 0 && datum.value > 1990","value":"#8a8a8a"},"value":"#000000"},
    "labels":false,"domain":true,"domainWidth":1.5,
    "title":"SPX Index (S&P 500 INDEX) S&P500 ConferenceBoard\u00a0\u00a0Täglich 03JAN1990-26APR2025\u00a0\u00a0\u00a0Copyright© 2025 Bloomberg Finance L.P.\u00a0\u00a0\u00a026-Apr-2025 20:05:49",
    "titleX":4,"titleY":55,"titleAlign":"left","titleBaseline":"middle","titleFontSize":16,"titleColor":"#1e1e1e","titleLimit":3000}},
  "stroke":{"condition":{"test":"datum.t > 2009 && datum.t < 2010","value":"#8f8f8f"},"value":"#cacaca"}}},
{"data":{"name":"dec"},"mark":{"type":"line","strokeWidth":2.5},
 "encoding":{"x":{"field":"t","type":"quantitative","scale":{"domain":[1989.94,2026.3],"nice":false,"zero":false},
   "axis":{"orient":"bottom","values":[1992.5,1997.5,2002.5,2007.5,2012.5,2017.5,2022.5],"labelExpr":"(floor(datum.value) - 2) + '-' + (floor(datum.value) + 2)","ticks":false,"domain":false,"grid":false,"labelPadding":27,"labelFontSize":15.5,"title":null}},
  "y":{"field":"v","type":"quantitative","scale":{"domain":[11.06,59.26],"nice":false,"zero":false},
   "axis":{"orient":"right","values":[12.5,15,17.5,20,22.5,25,27.5,30,32.5,35,37.5,40,42.5,45,47.5,50,52.5,55,57.5],"labelExpr":"datum.value % 5 === 0 ? datum.label : ''","grid":true,
    "gridOpacity":{"condition":{"test":"datum.value % 5 !== 0","value":0},"value":1},
    "tickSize":{"condition":{"test":"datum.value % 5 !== 0","value":5},"value":10},
    "tickWidth":{"condition":{"test":"datum.value % 5 !== 0","value":1},"value":2.5},
    "domainWidth":1.5,"labelPadding":3,"title":null}},
  "color":{"datum":"Conference Board Consumer Confidence Expectation Stock Prices Decrease - Letzter Kurs am 3/31\u00a0\u00a044.50\u00a0\u00a0\u00a0+10.50","scale":{"range":["#ff0000"]},
   "legend":{"title":"Täglich 1/3/1990 - 4/28/2025","legendX":2,"legendY":2,"symbolFillColor":"#ff0000"}}}}
],
"resolve":{"axis":{"x":"independent","y":"independent"}}
}
],
"resolve":{"scale":{"color":"independent"}},
"config":{
 "view":{"stroke":null},
 "font":"DejaVu Sans",
 "axis":{"labelFont":"DejaVu Sans","titleFont":"DejaVu Sans","labelColor":"#1e1e1e","labelFontSize":14.5,"gridColor":"#000000","gridDash":[2,2],"gridWidth":1,"domainColor":"#000000","tickColor":"#000000","titleFontWeight":"normal","labelOverlap":false,"labelFlush":false,"labelBound":false},
 "legend":{"orient":"none","fillColor":"rgba(236,236,236,0.62)","strokeColor":"#4a4a4a","strokeWidth":1.5,"cornerRadius":4,"padding":9,"titleFont":"DejaVu Sans","labelFont":"DejaVu Sans","titleFontSize":14,"labelFontSize":13.5,"titleFontWeight":"normal","titleColor":"#222222","labelColor":"#222222","titleAnchor":"middle","titleAlign":"center","titlePadding":4,"rowPadding":0,"labelLimit":2000,"titleLimit":2000,"symbolType":"square","symbolSize":144,"symbolStrokeWidth":0,"labelOffset":8}
}
}
